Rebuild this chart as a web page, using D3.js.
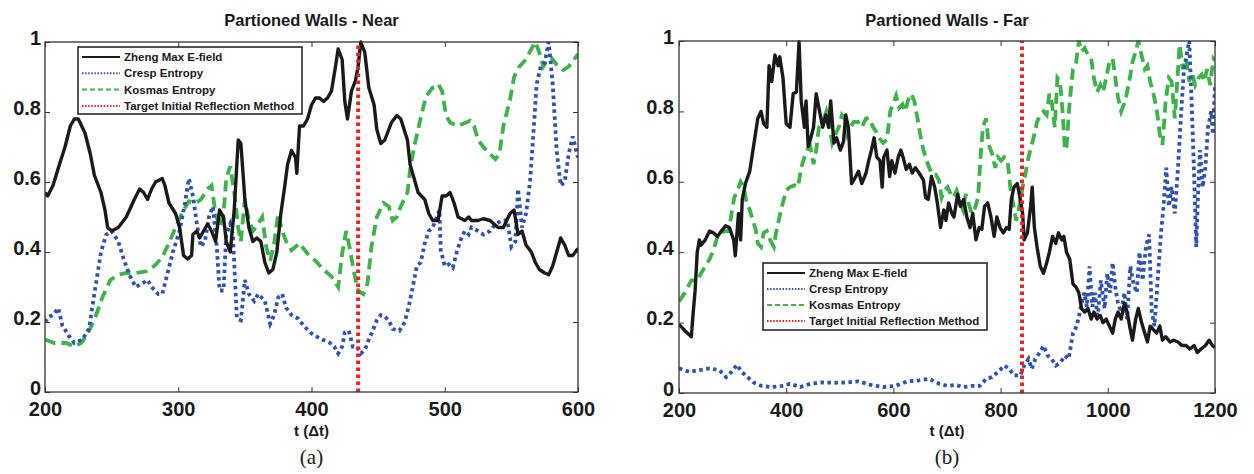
<!DOCTYPE html>
<html>
<head>
<meta charset="utf-8">
<script src="https://cdn.jsdelivr.net/npm/d3@7/dist/d3.min.js"></script>
<style>
  html, body { margin: 0; padding: 0; background: #fff; }
  svg { display: block; font-family: "Liberation Sans", Arial, sans-serif; }
</style>
</head>
<body>
<svg id="chart" width="1254" height="474"></svg>
<script>
// ---- Panel (a): Partioned Walls - Near ----
const nearZhengT = [200,202,206,210,215,219,222,225,230,234,237,242,245,247,250,255,261,267,271,274,277,280,283,288,290,293,298,301,304,307,310,311,314,316,319,322,325,328,331,334,336,339,342,345,347,350,353,356,359,362,365,368,371,374,377,380,382,385,388,389,391,394,397,400,403,406,409,412,415,418,420,423,425,427,430,433,435,437,440,443,447,449,452,455,460,464,467,472,474,477,480,485,488,491,495,498,501,504,507,510,515,518,520,525,529,534,540,544,549,552,555,558,561,565,568,571,575,578,581,584,587,590,593,596,600];
const nearZhengV = [0.57,0.56,0.59,0.64,0.70,0.76,0.78,0.78,0.74,0.68,0.62,0.57,0.52,0.47,0.46,0.47,0.50,0.55,0.58,0.57,0.55,0.58,0.60,0.61,0.59,0.54,0.51,0.47,0.39,0.38,0.39,0.45,0.46,0.44,0.46,0.48,0.46,0.43,0.52,0.50,0.43,0.40,0.52,0.72,0.71,0.55,0.47,0.43,0.44,0.43,0.37,0.34,0.35,0.40,0.51,0.59,0.65,0.69,0.67,0.625,0.76,0.76,0.78,0.82,0.84,0.84,0.83,0.84,0.86,0.93,0.98,0.95,0.83,0.78,0.86,0.89,0.93,1.0,0.97,0.87,0.82,0.75,0.71,0.72,0.77,0.79,0.78,0.72,0.65,0.61,0.57,0.55,0.51,0.49,0.49,0.56,0.56,0.57,0.54,0.50,0.49,0.50,0.49,0.49,0.495,0.49,0.47,0.47,0.51,0.52,0.45,0.46,0.42,0.40,0.37,0.35,0.34,0.335,0.36,0.40,0.44,0.42,0.39,0.39,0.41];

const nearCrespT = [200,203,206,210,213,218,222,228,233,237,242,246,250,255,259,264,268,273,277,280,285,288,292,296,301,305,308,311,314,317,320,323,326,329,331,334,336,339,341,344,347,350,353,357,360,365,369,372,375,378,381,385,390,394,399,403,408,414,417,420,423,425,428,431,434,437,440,443,446,449,452,455,458,461,466,470,473,476,479,482,485,488,491,494,496,497,500,503,506,509,512,515,518,520,525,529,534,538,543,547,550,553,555,558,561,564,566,569,572,575,578,581,584,587,590,593,596,600];
const nearCrespV = [0.20,0.215,0.22,0.24,0.19,0.16,0.14,0.15,0.18,0.28,0.40,0.45,0.46,0.43,0.38,0.33,0.30,0.31,0.32,0.30,0.28,0.28,0.34,0.40,0.46,0.54,0.61,0.56,0.48,0.415,0.43,0.50,0.53,0.41,0.29,0.29,0.45,0.48,0.45,0.21,0.205,0.32,0.28,0.26,0.28,0.26,0.195,0.22,0.27,0.28,0.24,0.22,0.21,0.19,0.17,0.16,0.15,0.14,0.13,0.11,0.13,0.17,0.175,0.13,0.13,0.11,0.12,0.15,0.175,0.205,0.22,0.215,0.205,0.18,0.175,0.20,0.245,0.30,0.36,0.37,0.425,0.46,0.47,0.50,0.52,0.405,0.36,0.365,0.355,0.40,0.435,0.46,0.45,0.47,0.46,0.45,0.46,0.48,0.49,0.49,0.415,0.43,0.58,0.47,0.51,0.60,0.71,0.88,0.93,0.94,1.0,0.88,0.69,0.59,0.60,0.68,0.73,0.67];

const nearKosmasT = [200,207,216,222,227,231,237,243,249,255,261,268,276,282,288,293,299,304,308,313,317,322,325,328,331,334,336,339,342,345,347,350,353,356,360,363,366,369,372,375,378,381,385,391,397,403,409,415,420,423,426,429,432,435,439,442,445,449,454,458,461,464,467,472,474,477,480,483,486,491,495,498,501,504,510,516,519,522,525,529,534,538,541,544,549,552,556,561,565,568,571,574,577,580,584,589,593,596,600];
const nearKosmasV = [0.15,0.14,0.14,0.13,0.14,0.16,0.205,0.27,0.32,0.335,0.34,0.34,0.345,0.36,0.385,0.425,0.48,0.52,0.545,0.54,0.55,0.58,0.59,0.51,0.47,0.51,0.61,0.645,0.57,0.47,0.43,0.55,0.49,0.46,0.48,0.50,0.415,0.375,0.425,0.51,0.46,0.43,0.405,0.425,0.395,0.375,0.35,0.33,0.30,0.395,0.46,0.405,0.34,0.29,0.28,0.31,0.415,0.50,0.54,0.53,0.49,0.50,0.53,0.57,0.635,0.70,0.75,0.80,0.845,0.87,0.88,0.86,0.79,0.77,0.76,0.77,0.775,0.76,0.72,0.70,0.68,0.665,0.68,0.76,0.835,0.90,0.93,0.95,0.98,1.0,0.97,0.93,0.95,0.955,0.935,0.92,0.93,0.945,0.965];

const nearTargetT = 435;

// ---- Panel (b): Partioned Walls - Far ----
const farZhengT = [200,211,223,226,230,234,238,241,249,257,264,272,279,287,294,302,305,311,315,318,324,332,339,347,353,358,364,368,373,379,385,388,394,400,407,413,419,424,428,434,437,441,446,451,456,461,468,474,479,483,489,494,501,507,511,516,522,528,535,541,549,554,559,564,569,575,579,582,588,593,597,603,609,614,618,624,630,635,641,648,656,660,665,671,677,682,688,694,698,703,709,713,720,725,731,737,743,748,754,760,765,770,776,782,788,793,799,805,811,816,820,825,831,835,841,844,850,856,859,863,868,874,880,886,891,897,903,908,914,918,923,929,935,941,946,951,957,963,969,974,980,986,991,997,1003,1009,1014,1019,1025,1031,1036,1042,1046,1052,1057,1063,1069,1074,1079,1085,1091,1097,1102,1108,1116,1123,1131,1138,1146,1153,1161,1167,1174,1182,1189,1195,1200];
const farZhengV = [0.195,0.177,0.16,0.22,0.29,0.40,0.435,0.42,0.435,0.46,0.455,0.445,0.46,0.475,0.47,0.435,0.39,0.51,0.435,0.55,0.595,0.63,0.70,0.78,0.80,0.765,0.755,0.93,0.885,0.96,0.93,0.955,0.895,0.765,0.755,0.85,0.855,0.998,0.83,0.755,0.83,0.70,0.725,0.755,0.85,0.81,0.755,0.79,0.755,0.83,0.71,0.725,0.69,0.715,0.79,0.755,0.595,0.61,0.63,0.595,0.625,0.66,0.69,0.725,0.67,0.66,0.585,0.67,0.69,0.615,0.66,0.625,0.67,0.69,0.67,0.635,0.65,0.625,0.64,0.625,0.605,0.555,0.55,0.615,0.585,0.54,0.47,0.52,0.49,0.54,0.51,0.50,0.565,0.53,0.55,0.50,0.47,0.51,0.435,0.47,0.465,0.53,0.54,0.50,0.445,0.50,0.47,0.455,0.47,0.465,0.55,0.585,0.595,0.565,0.51,0.435,0.455,0.53,0.585,0.47,0.415,0.36,0.34,0.37,0.40,0.445,0.425,0.455,0.435,0.445,0.40,0.38,0.31,0.30,0.285,0.24,0.23,0.24,0.21,0.23,0.21,0.22,0.20,0.21,0.19,0.17,0.21,0.23,0.21,0.255,0.23,0.18,0.15,0.21,0.24,0.20,0.17,0.145,0.19,0.18,0.17,0.19,0.15,0.16,0.145,0.15,0.145,0.135,0.135,0.125,0.135,0.115,0.125,0.135,0.15,0.135,0.13];

const farCrespT = [200,219,238,257,275,288,298,308,317,328,339,354,373,392,407,426,445,468,490,513,535,558,581,603,626,648,667,686,701,716,731,746,761,773,784,795,807,816,825,837,844,852,858,865,873,880,888,895,903,912,920,927,935,942,950,956,961,966,971,976,981,987,994,999,1004,1009,1014,1019,1025,1031,1036,1042,1048,1054,1059,1065,1071,1077,1082,1087,1093,1099,1104,1109,1114,1119,1125,1131,1137,1142,1147,1152,1157,1161,1165,1168,1172,1177,1182,1187,1193,1196,1200];
const farCrespV = [0.07,0.06,0.065,0.07,0.065,0.045,0.06,0.08,0.06,0.045,0.03,0.02,0.017,0.02,0.026,0.017,0.026,0.03,0.029,0.03,0.033,0.023,0.017,0.02,0.033,0.036,0.04,0.026,0.02,0.023,0.017,0.02,0.02,0.04,0.045,0.06,0.078,0.069,0.05,0.05,0.078,0.097,0.069,0.097,0.115,0.134,0.106,0.097,0.078,0.087,0.106,0.097,0.17,0.19,0.245,0.285,0.245,0.36,0.245,0.285,0.21,0.32,0.24,0.34,0.285,0.37,0.30,0.255,0.23,0.285,0.21,0.36,0.31,0.285,0.40,0.32,0.415,0.45,0.23,0.19,0.32,0.45,0.53,0.64,0.53,0.585,0.51,0.64,0.80,0.92,0.96,1.0,0.80,0.62,0.415,0.55,0.69,0.585,0.64,0.755,0.80,0.735,0.87];

const farKosmasT = [200,211,223,234,241,249,257,264,272,279,287,293,298,303,309,315,321,326,332,338,343,347,353,358,364,370,377,381,386,392,400,407,415,422,428,434,439,445,451,456,461,468,475,481,486,492,498,504,509,514,520,526,534,541,549,556,562,567,573,581,588,594,599,605,611,617,622,627,633,639,645,650,656,662,667,672,679,685,690,695,701,707,712,718,724,730,735,740,746,752,758,763,767,773,778,784,790,795,801,807,813,818,823,829,835,841,846,852,858,863,868,874,880,886,891,896,901,906,911,916,920,923,929,935,941,946,951,957,963,969,974,980,986,991,997,1003,1009,1014,1019,1025,1030,1034,1040,1046,1052,1057,1063,1069,1074,1079,1085,1091,1097,1102,1108,1114,1119,1125,1129,1134,1140,1146,1152,1157,1163,1169,1175,1180,1185,1191,1197,1200];
const farKosmasV = [0.26,0.285,0.32,0.32,0.34,0.36,0.38,0.405,0.445,0.455,0.46,0.46,0.51,0.555,0.575,0.60,0.585,0.54,0.52,0.49,0.465,0.425,0.415,0.455,0.46,0.435,0.415,0.455,0.49,0.53,0.575,0.585,0.59,0.585,0.64,0.67,0.69,0.70,0.65,0.69,0.755,0.77,0.80,0.755,0.71,0.735,0.755,0.79,0.78,0.735,0.755,0.77,0.77,0.755,0.78,0.78,0.755,0.745,0.725,0.71,0.72,0.80,0.82,0.845,0.81,0.82,0.80,0.83,0.85,0.83,0.78,0.735,0.69,0.66,0.64,0.62,0.62,0.605,0.555,0.575,0.585,0.565,0.555,0.575,0.545,0.52,0.565,0.54,0.51,0.525,0.555,0.68,0.755,0.78,0.705,0.68,0.64,0.67,0.66,0.67,0.66,0.585,0.54,0.49,0.53,0.585,0.62,0.67,0.705,0.735,0.77,0.79,0.80,0.79,0.85,0.82,0.755,0.895,0.885,0.79,0.69,0.70,0.83,0.92,0.94,1.0,0.97,0.98,0.96,0.95,0.895,0.855,0.875,0.855,0.895,0.94,0.95,0.895,0.84,0.80,0.82,0.84,0.885,0.94,0.97,1.0,0.96,0.92,0.93,0.885,0.85,0.81,0.735,0.705,0.83,0.895,0.885,0.78,0.87,0.99,0.92,0.95,0.885,0.91,0.875,0.895,0.905,0.885,0.92,0.875,0.95,0.945];

const farTargetT = 840;

const yTicks = [0, 0.2, 0.4, 0.6, 0.8, 1];
const yTickLabels = ["0", "0.2", "0.4", "0.6", "0.8", "1"];
const nearXTicks = [200, 300, 400, 500, 600];
const farXTicks = [200, 400, 600, 800, 1000, 1200];

const legendLabels = ["Zheng Max E-field", "Cresp Entropy", "Kosmas Entropy", "Target Initial Reflection Method"];

const colors = { zheng: "#1a1a1a", cresp: "#2f52b0", kosmas: "#3db34a", target: "#ee2024" };

const svg = d3.select("#chart");

function zip(ts, vs) { return ts.map((t, i) => ({ t, v: vs[i] })); }

function drawPanel(cfg) {
  const g = svg.append("g");
  const x = d3.scaleLinear().domain(cfg.xDomain).range([cfg.left, cfg.right]);
  const y = d3.scaleLinear().domain([0, 1]).range([cfg.bottom, cfg.top]);

  const clipId = "clip-" + cfg.id;
  g.append("clipPath").attr("id", clipId)
    .append("rect").attr("x", cfg.left).attr("y", cfg.top - 2)
    .attr("width", cfg.right - cfg.left).attr("height", cfg.bottom - cfg.top + 2);

  const line = d3.line().x(d => x(d.t)).y(d => y(d.v)).curve(d3.curveLinear);
  const plot = g.append("g").attr("clip-path", `url(#${clipId})`);

  plot.append("path").datum(zip(cfg.kosmasT, cfg.kosmasV))
    .attr("d", line).attr("fill", "none").attr("stroke", colors.kosmas)
    .attr("stroke-width", 3.8).attr("stroke-dasharray", "11,6");
  plot.append("path").datum(zip(cfg.crespT, cfg.crespV))
    .attr("d", line).attr("fill", "none").attr("stroke", colors.cresp)
    .attr("stroke-width", 3.8).attr("stroke-dasharray", "3.5,3.5");
  plot.append("path").datum(zip(cfg.zhengT, cfg.zhengV))
    .attr("d", line).attr("fill", "none").attr("stroke", colors.zheng)
    .attr("stroke-width", 3.4).attr("stroke-linejoin", "round");
  plot.append("line")
    .attr("x1", x(cfg.targetT)).attr("x2", x(cfg.targetT))
    .attr("y1", y(0)).attr("y2", y(1))
    .attr("stroke", colors.target).attr("stroke-width", 4).attr("stroke-dasharray", "3.5,3.5");

  // axes with inward ticks on all four sides
  const tickLen = 5;
  const axisColor = "#333";
  g.append("g").attr("transform", `translate(0,${cfg.bottom})`)
    .call(d3.axisBottom(x).tickValues(cfg.xTicks).tickSize(-tickLen).tickPadding(10).tickFormat(d3.format("d")))
    .call(a => a.select(".domain").remove())
    .call(a => a.selectAll("line").attr("stroke", axisColor))
    .call(a => a.selectAll("text").attr("font-family", null).attr("font-size", 20).attr("font-weight", "bold").attr("fill", "#1a1a1a"));
  g.append("g").attr("transform", `translate(0,${cfg.top})`)
    .call(d3.axisTop(x).tickValues(cfg.xTicks).tickSize(-tickLen).tickFormat(""))
    .call(a => a.select(".domain").remove())
    .call(a => a.selectAll("line").attr("stroke", axisColor));
  g.append("g").attr("transform", `translate(${cfg.left},0)`)
    .call(d3.axisLeft(y).tickValues(yTicks).tickSize(-tickLen).tickPadding(cfg.yPad)
      .tickFormat((d, i) => yTickLabels[i]))
    .call(a => a.select(".domain").remove())
    .call(a => a.selectAll("line").attr("stroke", axisColor))
    .call(a => a.selectAll("text").attr("font-family", null).attr("font-size", 20).attr("font-weight", "bold").attr("fill", "#1a1a1a").attr("dy", "0.1em"));
  g.append("g").attr("transform", `translate(${cfg.right},0)`)
    .call(d3.axisRight(y).tickValues(yTicks).tickSize(-tickLen).tickFormat(""))
    .call(a => a.select(".domain").remove())
    .call(a => a.selectAll("line").attr("stroke", axisColor));

  g.append("rect").attr("x", cfg.left).attr("y", cfg.top)
    .attr("width", cfg.right - cfg.left).attr("height", cfg.bottom - cfg.top)
    .attr("fill", "none").attr("stroke", axisColor).attr("stroke-width", 1.3);

  const cx = (cfg.left + cfg.right) / 2;
  g.append("text").attr("x", cx).attr("y", 26).attr("text-anchor", "middle")
    .attr("font-size", 16.5).attr("font-weight", "bold").attr("fill", "#1a1a1a").text(cfg.title);
  g.append("text").attr("x", cx).attr("y", 436).attr("text-anchor", "middle")
    .attr("font-size", 15).attr("font-weight", "bold").attr("fill", "#1a1a1a").text("t (\u0394t)");
  g.append("text").attr("x", cx).attr("y", 464).attr("text-anchor", "middle")
    .style("font-family", "'Liberation Serif', 'Times New Roman', serif")
    .attr("font-size", 21).attr("fill", "#1a1a1a").text(cfg.caption);

  // legend
  const L = cfg.legend;
  const lg = g.append("g");
  lg.append("rect").attr("x", L.x).attr("y", L.y).attr("width", L.w).attr("height", L.h)
    .attr("fill", "#fff").attr("stroke", "#1a1a1a").attr("stroke-width", 1.5);
  const styles = [
    { c: colors.zheng, w: 2, dash: null },
    { c: colors.cresp, w: 2, dash: "1.5,1.6" },
    { c: colors.kosmas, w: 2, dash: "5,3" },
    { c: colors.target, w: 2, dash: "1.5,1.6" }
  ];
  legendLabels.forEach((lab, i) => {
    const yy = L.y + L.row0 + i * L.step;
    const s = styles[i];
    lg.append("line").attr("x1", L.x + 4).attr("x2", L.x + 42).attr("y1", yy).attr("y2", yy)
      .attr("stroke", s.c).attr("stroke-width", s.w).attr("stroke-dasharray", s.dash);
    lg.append("text").attr("x", L.x + 46).attr("y", yy + 4)
      .attr("font-size", 11.5).attr("font-weight", "bold").attr("fill", "#1a1a1a").text(lab);
  });
}

drawPanel({
  id: "near", title: "Partioned Walls - Near", caption: "(a)",
  xDomain: [200, 600], xTicks: nearXTicks,
  left: 45, right: 578, top: 42, bottom: 392, yPad: 4,
  zhengT: nearZhengT, zhengV: nearZhengV,
  crespT: nearCrespT, crespV: nearCrespV,
  kosmasT: nearKosmasT, kosmasV: nearKosmasV,
  targetT: nearTargetT,
  legend: { x: 78, y: 47, w: 224, h: 67, row0: 10, step: 16.3 }
});

drawPanel({
  id: "far", title: "Partioned Walls - Far", caption: "(b)",
  xDomain: [200, 1200], xTicks: farXTicks,
  left: 679, right: 1215, top: 41, bottom: 393, yPad: 5,
  zhengT: farZhengT, zhengV: farZhengV,
  crespT: farCrespT, crespV: farCrespV,
  kosmasT: farKosmasT, kosmasV: farKosmasV,
  targetT: farTargetT,
  legend: { x: 763, y: 263, w: 224, h: 67, row0: 10, step: 16 }
});
</script>
</body>
</html>
